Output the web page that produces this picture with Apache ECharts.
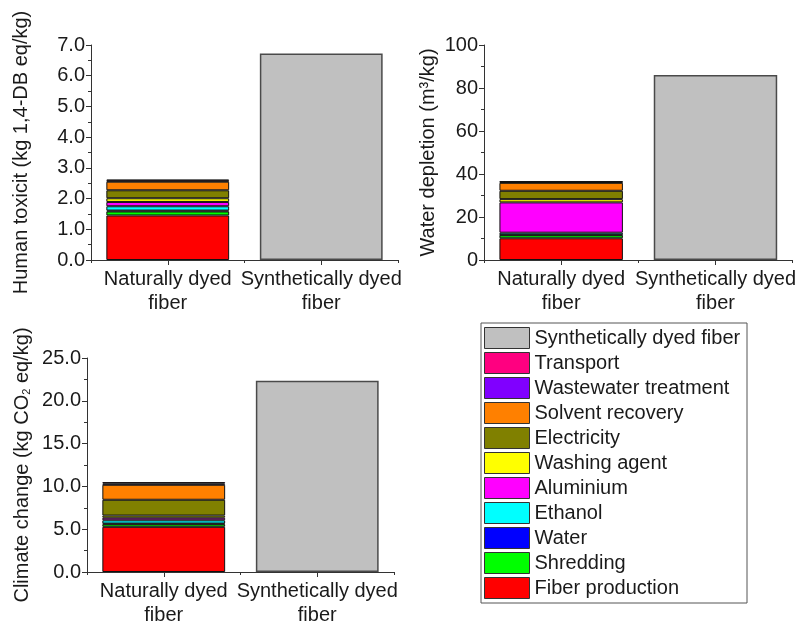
<!DOCTYPE html>
<html>
<head>
<meta charset="utf-8">
<script src="https://cdn.jsdelivr.net/npm/echarts@6/dist/echarts.min.js"></script>
<style>html,body{margin:0;padding:0;background:#fff}#c{width:799px;height:627px}</style>
</head>
<body>
<div id="c"></div>
<script>
// ---- data ----
const categories = ['Naturally dyed\nfiber', 'Synthetically dyed\nfiber'];
const processes = ['Fiber production', 'Shredding', 'Water', 'Ethanol', 'Aluminium', 'Washing agent', 'Electricity', 'Solvent recovery', 'Wastewater treatment', 'Transport'];
const syntheticName = 'Synthetically dyed fiber';
const humanToxNatural = [1.45, 0.13, 0.03, 0.14, 0.14, 0.12, 0.26, 0.28, 0.03, 0.04];
const humanToxSynthetic = 6.72;
const waterNatural = [10.1, 1.4, 0.2, 1.0, 14.1, 1.5, 3.9, 3.7, 0.4, 0.3];
const waterSynthetic = 86.0;
const climateNatural = [5.28, 0.30, 0.08, 0.38, 0.30, 0.25, 1.85, 1.75, 0.15, 0.16];
const climateSynthetic = 22.34;
const legendOrder = ['Synthetically dyed fiber', 'Transport', 'Wastewater treatment', 'Solvent recovery', 'Electricity', 'Washing agent', 'Aluminium', 'Ethanol', 'Water', 'Shredding', 'Fiber production'];

// ---- styles ----
const processColors = ['#ff0000', '#00ff00', '#0000ff', '#00ffff', '#ff00ff', '#ffff00', '#808000', '#ff8000', '#8000ff', '#ff0080'];
const syntheticColor = '#c0c0c0';
const FONT = 'Liberation Sans, Arial, Helvetica, sans-serif';
const FS = 20;
const TXT = '#1a1a1a';

const panels = [
  { natural: humanToxNatural, synthetic: humanToxSynthetic, min: 0, max: 7, interval: 1, dec: 1,
    name: 'Human toxicit (kg 1,4-DB eq/kg)', grid: { left: 91, top: 45, width: 307, height: 215 }, nameGap: 60 },
  { natural: waterNatural, synthetic: waterSynthetic, min: 0, max: 100, interval: 20, dec: 0,
    name: 'Water depletion (m³/kg)', grid: { left: 484, top: 45, width: 309, height: 215 }, nameGap: 46 },
  { natural: climateNatural, synthetic: climateSynthetic, min: 0, max: 25, interval: 5, dec: 1,
    name: 'Climate change (kg CO{sub|2} eq/kg)', grid: { left: 87, top: 358, width: 307, height: 216 }, nameGap: 55 }
];

const grid = [], xAxis = [], yAxis = [], series = [];
panels.forEach((p, i) => {
  grid.push(Object.assign({ containLabel: false }, p.grid));
  xAxis.push({
    type: 'category', gridIndex: i, data: categories, position: 'bottom',
    axisLine: { show: true, lineStyle: { color: '#333', width: 1 } },
    axisTick: { show: true, alignWithLabel: true, length: 5, lineStyle: { color: '#333' } },
    axisLabel: { interval: 0, hideOverlap: false, fontFamily: FONT, fontSize: FS, color: TXT, margin: 7, lineHeight: 24 },
    splitLine: { show: false }
  });
  yAxis.push({
    type: 'value', gridIndex: i, min: p.min, max: p.max, interval: p.interval,
    name: p.name, nameLocation: 'middle', nameRotate: 90, nameGap: p.nameGap,
    nameTextStyle: { fontFamily: FONT, fontSize: FS, color: TXT,
      rich: { sub: { fontFamily: FONT, fontSize: 11, color: TXT, verticalAlign: 'bottom', padding: [8, 0, 0, 0] } } },
    axisLine: { show: true, lineStyle: { color: '#333', width: 1 } },
    axisTick: { show: true, length: 5, lineStyle: { color: '#333' } },
    minorTick: { show: true, splitNumber: 2, length: 3, lineStyle: { color: '#333' } },
    axisLabel: { fontFamily: FONT, fontSize: FS, color: TXT, margin: 6,
      formatter: v => v.toFixed(p.dec) },
    splitLine: { show: false }
  });
});
// secondary axes for boundary ticks
panels.forEach((p, i) => {
  xAxis.push({
    type: 'category', gridIndex: i, data: categories, position: 'bottom', offset: 0,
    axisLine: { show: false }, axisLabel: { show: false },
    axisTick: { show: true, length: 3, lineStyle: { color: '#333' } }, splitLine: { show: false }
  });
});

panels.forEach((p, i) => {
  processes.forEach((name, k) => {
    series.push({
      name: name, type: 'bar', xAxisIndex: i, yAxisIndex: i, stack: 'st' + i,
      barCategoryGap: '20%',
      data: [p.natural[k], '-'],
      itemStyle: { color: processColors[k], borderColor: '#111', borderWidth: 1 }
    });
  });
  series.push({
    name: syntheticName, type: 'bar', xAxisIndex: i, yAxisIndex: i, stack: 'st' + i,
    barCategoryGap: '20%',
    data: ['-', p.synthetic],
    itemStyle: { color: syntheticColor, borderColor: '#4a4a4a', borderWidth: 1.5 }
  });
});

const chart = echarts.init(document.getElementById('c'), null, { renderer: 'canvas' });
chart.setOption({
  animation: false,
  backgroundColor: '#fff',
  grid, xAxis, yAxis, series,
  legend: {
    data: legendOrder, orient: 'vertical', left: 484, top: 327,
    itemWidth: 45, itemHeight: 21, itemGap: 3, padding: 0, icon: 'rect',
    itemStyle: { borderColor: '#333', borderWidth: 1 },
    textStyle: { fontFamily: FONT, fontSize: FS, color: TXT, lineHeight: 21 },
    selectedMode: false
  },
  graphic: [{
    type: 'rect', shape: { x: 481, y: 323, width: 266, height: 280 },
    style: { fill: 'none', stroke: '#555', lineWidth: 1 }, silent: true
  }]
});
</script>
</body>
</html>
